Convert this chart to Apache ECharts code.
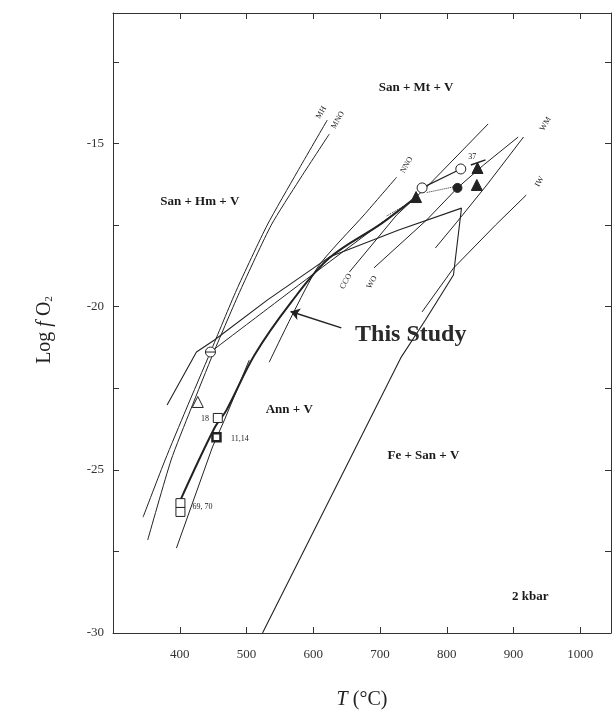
<!DOCTYPE html>
<html>
<head>
<meta charset="utf-8">
<script src="https://cdn.jsdelivr.net/npm/echarts@6/dist/echarts.min.js"></script>
<style>
    html, body { margin: 0; padding: 0; background: #fff; }
    #chart { width: 614px; height: 722px; }
</style>
</head>
<body>
<div id="chart"></div>
<script type="text/javascript">
// buffer and boundary curves, points are [T (C), log fO2]
var mh   = [[621,-14.28],[576,-15.87],[531,-17.50],[485,-19.49],[446,-21.39],[409,-23.17],[378,-24.70],[345,-26.45]];
var mno  = [[624,-14.71],[579,-16.12],[537,-17.50],[491,-19.49],[451,-21.39],[416,-23.17],[387,-24.70],[352,-27.15]];
var nno  = [[725,-16.03],[676,-17.19],[606,-18.81],[534,-21.70]];
var nnoLow = [[504,-21.64],[467,-23.47],[449,-24.30],[395,-27.40]];
var cco  = [[654,-18.94],[725,-17.19],[754,-16.64],[773,-16.27],[862,-14.40]];
var wo   = [[691,-18.81],[770,-17.34],[816,-16.36],[855,-15.66],[907,-14.80]];
var wm   = [[915,-14.80],[860,-16.27],[815,-17.41],[783,-18.20]];
var iw   = [[919,-16.58],[873,-17.50],[810,-18.82],[763,-20.16]];
var ew62 = [[381,-23.01],[425,-21.39],[452,-21.02],[531,-19.80],[624,-18.48],[728,-17.65],[822,-16.98],
            [810,-19.03],[768,-20.41],[731,-21.57],[524,-30.0]];
var older = [[446,-21.39],[531,-20.07],[624,-18.63],[698,-17.50],[754,-16.64]];
var thisStudy = [[401,-25.93],[452,-23.72],[470,-23.17],[512,-21.48],[567,-19.86],[624,-18.51],
                 [703,-17.44],[754,-16.64]];
var link37 = [[763,-16.36],[821,-15.78]];
var bar37 = [[836,-15.66],[858,-15.50]];
var dotted37 = [[770,-16.50],[810,-16.33]];
var dottedTri = [[710,-17.22],[749,-16.76]];

// experiment points
var filledTri = [[754,-16.64],[846,-15.75],[845,-16.27]];
var filledDot = [[816,-16.36]];
var openDot = [[763,-16.36],[821,-15.78]];
var thetaDot = [[446,-21.39]];
var openTri = [[427,-22.92]];
var openSq = [[457,-23.41],[401,-26.02],[401,-26.29]];
var thickSq = [[455,-24.00]];

var xTicks = [400,500,600,700,800,900,1000];
var yTicks = [-15,-20,-25,-30];

// text on the plot: [T, logfO2, text]
var fieldLabels = [
    [754,-13.30,'San + Mt + V'],
    [430,-16.79,'San + Hm + V'],
    [564,-23.17,'Ann + V'],
    [765,-24.55,'Fe + San + V'],
    [925,-28.90,'2 kbar']
];
var bufferLabels = [
    [612,-14.05,'MH'],[637,-14.28,'MNO'],[740,-15.66,'NNO'],[948,-14.40,'WM'],
    [939,-16.17,'IW'],[649,-19.22,'CCO'],[688,-19.25,'WO']
];
var smallLabels = [
    [838,-15.40,'37'],[438,-23.45,'18'],[490,-24.06,'11,14'],[434,-26.15,'69, 70']
];

var chart = echarts.init(document.getElementById('chart'));

var lineSeries = function(data, width, type, smooth) {
    return {
        type: 'line', data: data, showSymbol: false, silent: true, smooth: smooth || false,
        lineStyle: {color: '#222', width: width || 1, type: type || 'solid'},
        z: 2
    };
};

var markSeries = function(data, symbol, size, filled, bw) {
    return {
        type: 'scatter', data: data, symbol: symbol, symbolSize: size, z: 5,
        itemStyle: {
            color: filled ? '#222' : '#fff',
            borderColor: '#222',
            borderWidth: bw || 1,
            opacity: 1
        }
    };
};

var textSeries = function(list, font, rotate) {
    return {
        type: 'scatter', symbolSize: 0, z: 6, silent: true,
        itemStyle: {opacity: 1},
        data: list.map(function(d) { return {value: [d[0], d[1]], name: d[2]}; }),
        label: {
            show: true, position: 'inside', formatter: '{b}', rotate: rotate || 0,
            color: font.color || '#1a1a1a', fontFamily: 'Liberation Serif', fontSize: font.size,
            fontWeight: font.weight
        }
    };
};

var thetaPath = 'path://M0,5A5,5 0 1,1 10,5A5,5 0 1,1 0,5ZM0,5L10,5';

var series = [
    lineSeries(mh, 1, null, 0.2), lineSeries(mno, 1, null, 0.2), lineSeries(nno, 1, null, 0.2),
    lineSeries(nnoLow), lineSeries(cco), lineSeries(wo), lineSeries(wm), lineSeries(iw),
    lineSeries(ew62, 1.1), lineSeries(older, 1, null, 0.3), lineSeries(thisStudy, 2, null, 0.35),
    lineSeries(link37, 1.2), lineSeries(bar37, 1.5),
    lineSeries(dotted37, 1, 'dotted'), lineSeries(dottedTri, 1, 'dotted'),
    {
        type: 'lines', coordinateSystem: 'cartesian2d', silent: true, z: 4,
        symbol: ['none', 'arrow'], symbolSize: 9,
        lineStyle: {color: '#222', width: 1.5, opacity: 1},
        data: [{coords: [[642,-20.65],[566,-20.15]]}]
    },
    markSeries(filledTri, 'triangle', 11, true),
    markSeries(filledDot, 'circle', 9, true),
    markSeries(openDot, 'circle', 10, false),
    markSeries(thetaDot, thetaPath, 10, false),
    markSeries(openTri, 'triangle', 11, false),
    markSeries(openSq, 'rect', 9, false),
    markSeries(thickSq, 'rect', 8, false, 2.5),
    textSeries(fieldLabels, {size: 13, weight: 'bold'}),
    textSeries(bufferLabels, {size: 8, weight: 'normal'}, 60),
    textSeries(smallLabels, {size: 8, weight: 'normal'}),
    textSeries([[746,-20.87,'This Study']], {size: 24, weight: 'bold', color: '#2a2a2a'})
];

var axisFont = {color: '#333', fontFamily: 'Liberation Serif', fontSize: 13};

chart.setOption({
    animation: false,
    grid: {left: 113, top: 13, width: 500, height: 620},
    xAxis: [{
        type: 'value', min: 300, max: 1046, interval: 100,
        name: '{i|T} (°C)', nameLocation: 'middle', nameGap: 57,
        nameTextStyle: {fontFamily: 'Liberation Serif', fontSize: 20, color: '#222',
            rich: {i: {fontStyle: 'italic', fontFamily: 'Liberation Serif', fontSize: 20}}},
        axisLine: {lineStyle: {color: '#333', width: 1}},
        axisTick: {inside: true, length: 6, lineStyle: {color: '#333'}},
        axisLabel: Object.assign({margin: 15, formatter: function(v) {
            return xTicks.indexOf(v) >= 0 ? String(v) : '';
        }}, axisFont),
        splitLine: {show: false}
    }, {
        type: 'value', min: 300, max: 1046, interval: 100, position: 'top',
        axisLine: {show: true, lineStyle: {color: '#333'}},
        axisTick: {inside: true, length: 6, lineStyle: {color: '#333'}},
        axisLabel: {show: false}, splitLine: {show: false}
    }],
    yAxis: [{
        type: 'value', min: -30, max: -11, interval: 2.5,
        name: 'Log {i|f} O{s|2}', nameLocation: 'middle', nameGap: 58, nameRotate: 90,
        nameTextStyle: {fontFamily: 'Liberation Serif', fontSize: 20, color: '#222', padding: [0, 14, 0, 0],
            rich: {i: {fontStyle: 'italic', fontFamily: 'Liberation Serif', fontSize: 20},
                   s: {fontFamily: 'Liberation Serif', fontSize: 11, verticalAlign: 'bottom', padding: [8, 0, 0, 0]}}},
        axisLine: {show: true, lineStyle: {color: '#333', width: 1}},
        axisTick: {inside: true, length: 6, lineStyle: {color: '#333'}},
        axisLabel: Object.assign({margin: 9, formatter: function(v) {
            return yTicks.indexOf(v) >= 0 ? String(v) : '';
        }}, axisFont),
        splitLine: {show: false}
    }, {
        type: 'value', min: -30, max: -11, interval: 2.5, position: 'right',
        axisLine: {show: true, lineStyle: {color: '#333'}},
        axisTick: {inside: true, length: 6, lineStyle: {color: '#333'}},
        axisLabel: {show: false}, splitLine: {show: false}
    }],
    series: series
});
</script>
</body>
</html>
